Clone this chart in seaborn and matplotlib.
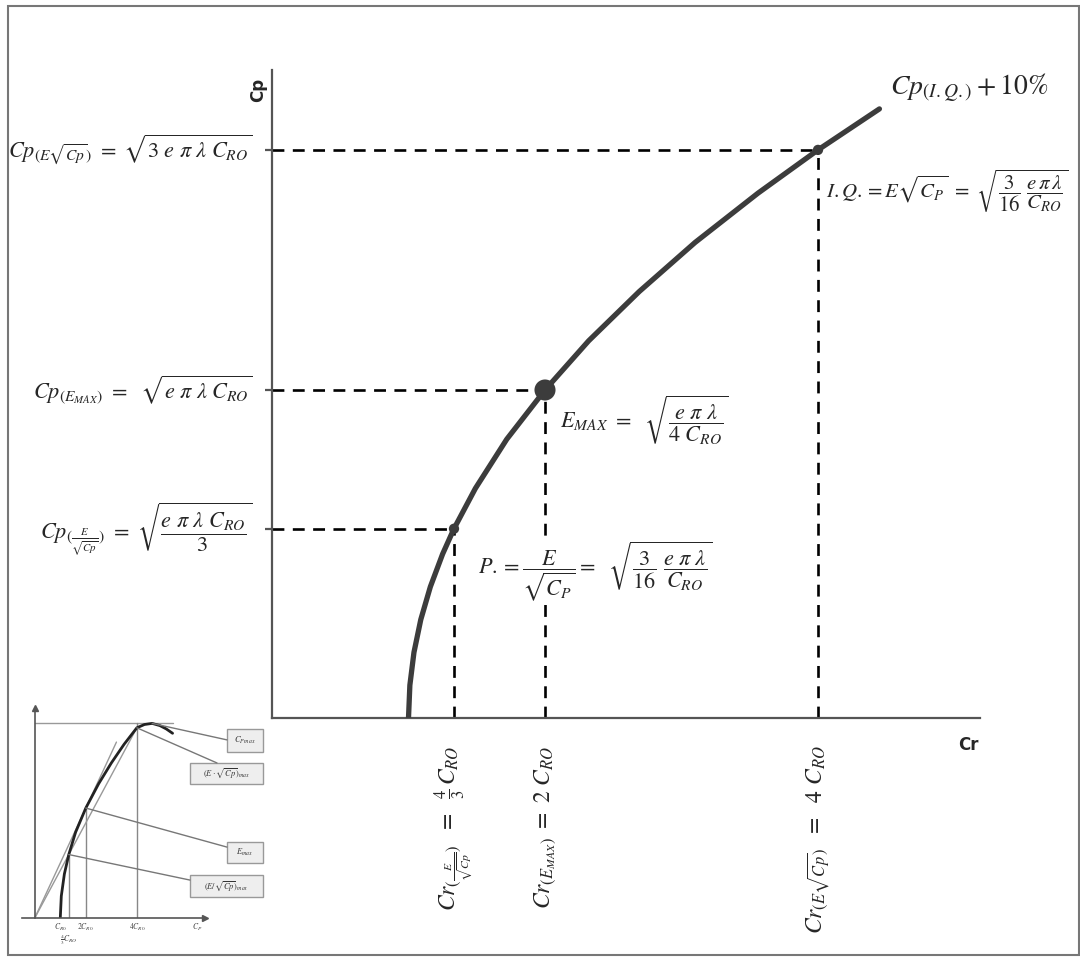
import matplotlib
matplotlib.use("Agg")
import matplotlib.pyplot as plt
from matplotlib.patches import Rectangle
import pandas as pd
import seaborn as sns

sns.set_style("white")
plt.rcParams["font.family"] = ["DejaVu Sans"]
plt.rcParams["mathtext.fontset"] = "stix"

# polar curve
# Cr in units of C_RO, Cp in units of sqrt(e pi lambda C_RO)
cp_curve = [0.0, 0.1, 0.2, 0.3, 0.4, 0.5, 0.577, 0.7, 0.85, 1.0, 1.15, 1.3, 1.45, 1.6, 1.732, 1.857]
cr_curve = [1.0, 1.01, 1.04, 1.09, 1.16, 1.25, 1.333, 1.49, 1.72, 2.0, 2.32, 2.69, 3.10, 3.56, 4.0, 4.45]

# marked points: E/sqrt(Cp) max, E max, E*sqrt(Cp) max
cr_points = [4 / 3, 2.0, 4.0]
cp_points = [0.577, 1.0, 1.732]
point_kind = ["small", "big", "small"]

cp_labels = [
    r"$Cp_{(\frac{E}{\sqrt{Cp}})}\ =\ \sqrt{\dfrac{e\ \pi\ \lambda\ C_{RO}}{3}}$",
    r"$Cp_{(E_{MAX})}\ =\ \ \sqrt{e\ \pi\ \lambda\ C_{RO}}$",
    r"$Cp_{(E\sqrt{Cp})}\ =\ \sqrt{3\ e\ \pi\ \lambda\ C_{RO}}$",
]
cr_labels = [
    r"$Cr_{(\frac{E}{\sqrt{Cp}})}\ \ =\ \ \frac{4}{3}\,C_{RO}$",
    r"$Cr_{(E_{MAX})}\ =\ 2\ C_{RO}$",
    r"$Cr_{(E\sqrt{Cp})}\ \ =\ \ 4\ C_{RO}$",
]
emax_text = r"$E_{MAX}\ =\ \ \sqrt{\dfrac{e\ \pi\ \lambda}{4\ C_{RO}}}$"
p_text = r"$P.=\dfrac{E}{\sqrt{C_P}}=\ \ \sqrt{\dfrac{3}{16}\ \dfrac{e\ \pi\ \lambda}{C_{RO}}}$"
iq_text = r"$I.Q.=E\sqrt{C_P}\ =\ \sqrt{\dfrac{3}{16}\ \dfrac{e\,\pi\,\lambda}{C_{RO}}}$"
end_text = r"$Cp_{(I.Q.)}+10\%$"

# small inset (scanned textbook figure)
inset_cr = [1.0, 1.04, 1.16, 1.333, 1.6, 2.0, 2.5, 3.0, 3.5, 4.0, 4.3, 4.6, 4.9, 5.15, 5.4]
inset_cp = [0.0, 0.2, 0.4, 0.577, 0.78, 1.0, 1.22, 1.41, 1.58, 1.73, 1.76, 1.77, 1.75, 1.72, 1.68]
inset_ticks = [1.0, 4 / 3, 2.0, 4.0, 6.35]
inset_tick_labels = [r"$C_{R0}$", r"$\frac{4}{3}C_{RO}$", r"$2C_{R0}$", r"$4C_{R0}$", r"$C_P$"]
inset_box_labels = [r"$C_{P\,max}$", r"$(E\cdot\sqrt{Cp})_{max}$", r"$E_{max}$", r"$(E/\sqrt{Cp})_{max}$"]
inset_box_from = [(4.6, 1.77), (4.0, 1.73), (2.0, 1.0), (1.333, 0.577)]

curve = pd.DataFrame({"Cr": cr_curve, "Cp": cp_curve})
points = pd.DataFrame({"Cr": cr_points, "Cp": cp_points, "kind": point_kind})

fig = plt.figure(figsize=(10.8, 9.6), dpi=100)
fig.patches.append(Rectangle((0.007, 0.005), 0.992, 0.989, transform=fig.transFigure,
                             fill=False, edgecolor="#777777", linewidth=1.5))

# main axes: pixel box x 272..980, y 70..718
ax = fig.add_axes([272 / 1080, 242 / 960, 708 / 1080, 648 / 960])
ax.set_xlim(0, 708 / 136.5)
ax.set_ylim(0, 648 / 328)

for x, y in zip(cr_points, cp_points):
    ax.plot([0, x], [y, y], color="black", lw=1.9, dashes=(4.5, 3.2), zorder=2)
    ax.plot([x, x], [0, y], color="black", lw=1.9, dashes=(4.5, 3.2), zorder=2)

sns.lineplot(data=curve, x="Cr", y="Cp", sort=False, color="#3c3c3c", lw=3.8, ax=ax, zorder=3)
sns.scatterplot(data=points[points.kind == "small"], x="Cr", y="Cp", s=55, color="#3c3c3c",
                edgecolor="none", ax=ax, zorder=4)
sns.scatterplot(data=points[points.kind == "big"], x="Cr", y="Cp", s=230, color="#3c3c3c",
                edgecolor="none", ax=ax, zorder=4)

for s in ["top", "right"]:
    ax.spines[s].set_visible(False)
for s in ["left", "bottom"]:
    ax.spines[s].set_color("#555555")
    ax.spines[s].set_linewidth(1.6)
ax.set_xticks([])
ax.set_yticks(cp_points)
ax.set_yticklabels([])
ax.tick_params(axis="y", length=5, width=1.6, color="#555555", direction="out", left=True)
ax.set_xlabel("")
ax.set_ylabel("")

for y, lab in zip(cp_points, cp_labels):
    ax.annotate(lab, xy=(0, y), xytext=(-14, 0), textcoords="offset points",
                ha="right", va="center", fontsize=16, annotation_clip=False)
for x, lab in zip(cr_points, cr_labels):
    ax.annotate(lab, xy=(x, 0), xytext=(0, -20), textcoords="offset points",
                ha="center", va="top", rotation=90, fontsize=17, annotation_clip=False)

ax.text((560 - 272) / 136.5, (718 - 420) / 328, emax_text, fontsize=16, va="center", ha="left")
ax.text((478 - 272) / 136.5, (718 - 572) / 328, p_text, fontsize=16, va="center", ha="left",
        bbox=dict(facecolor="white", edgecolor="none", pad=1), zorder=5)
ax.text((826 - 272) / 136.5, (718 - 190) / 328, iq_text, fontsize=15, va="center", ha="left",
        clip_on=False)
ax.text((890 - 272) / 136.5, (718 - 88) / 328, end_text, fontsize=20, va="center", ha="left",
        clip_on=False)
ax.text(-0.10, (718 - 90) / 328, "Cp", rotation=90, fontsize=12, fontweight="bold",
        ha="center", va="center", clip_on=False)
ax.text((968 - 272) / 136.5, -0.082, "Cr", fontsize=12, fontweight="bold",
        ha="center", va="center", clip_on=False)

# inset
ins = fig.add_axes([22 / 1080, 42 / 960, 183 / 1080, 210 / 960])
ins.set_xlim(-0.5, 6.67)
ins.set_ylim(0, 1.91)
ins.patch.set_alpha(0)
for s in ["top", "right"]:
    ins.spines[s].set_visible(False)
ins.spines["left"].set_position(("data", 0))
for s in ["left", "bottom"]:
    ins.spines[s].set_color("#555555")
    ins.spines[s].set_linewidth(1.2)
ins.set_xticks([])
ins.set_yticks([])
ins.plot(1, 0, ">", color="#555555", ms=4, transform=ins.get_yaxis_transform(), clip_on=False)
ins.plot(0, 1, "^", color="#555555", ms=4, transform=ins.get_xaxis_transform(), clip_on=False)

ins.plot([0, 5.4], [1.77, 1.77], color="#999999", lw=1)
for x, y in zip(cr_points, cp_points):
    top = 1.77 if x == 4.0 else y
    ins.plot([x, x], [0, top], color="#888888", lw=1)
ins.plot([0, 3.2], [0, 1.6], color="#999999", lw=1)
ins.plot([0, 4.0], [0, 1.73], color="#999999", lw=1)
sns.lineplot(x=inset_cr, y=inset_cp, sort=False, color="#222222", lw=2, ax=ins)

box_geom = [(7.53, 1.51, 1.41, 0.21), (6.08, 1.22, 2.86, 0.19),
            (7.53, 0.50, 1.41, 0.19), (6.08, 0.19, 2.86, 0.20)]
box_end = [(7.53, 1.62), (7.14, 1.41), (7.53, 0.645), (6.08, 0.345)]
for (bx, by, bw, bh), lab, (fx, fy), (ex, ey) in zip(box_geom, inset_box_labels, inset_box_from, box_end):
    ins.add_patch(Rectangle((bx, by), bw, bh, facecolor="#eeeeee", edgecolor="#999999",
                            lw=1, clip_on=False))
    ins.text(bx + bw / 2, by + bh / 2, lab, fontsize=6, ha="center", va="center", color="#333333",
             clip_on=False)
    ins.plot([fx, ex], [fy, ey], color="#777777", lw=1, clip_on=False)

for x, lab in zip(inset_ticks, inset_tick_labels):
    dy = -0.2 if x == 4 / 3 else -0.09
    ins.text(x, dy, lab, fontsize=5.5, ha="center", va="center", color="#444444", clip_on=False)

fig.savefig("out.png", dpi=100)
